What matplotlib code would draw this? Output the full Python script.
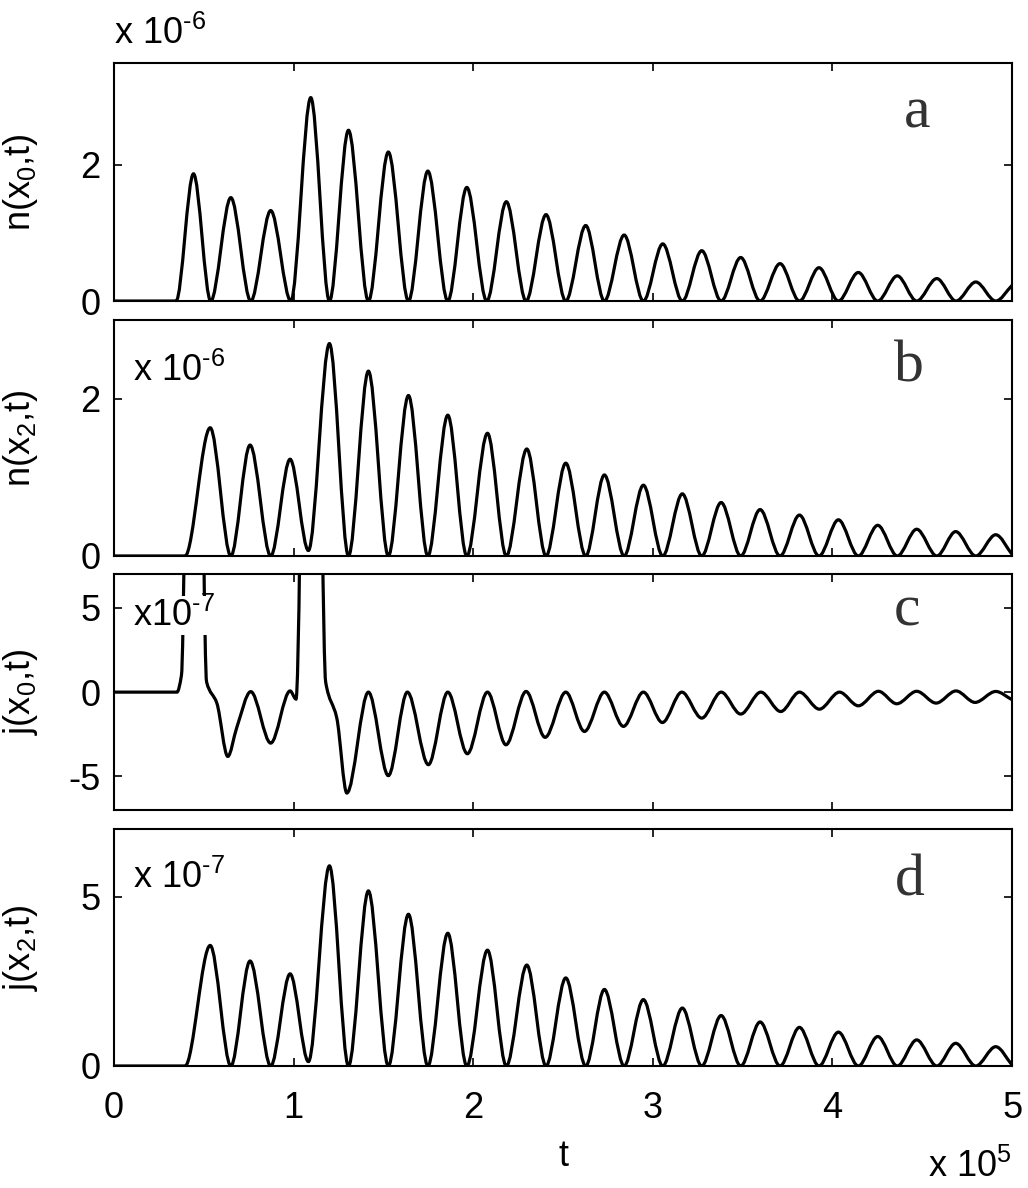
import numpy as np
import matplotlib
matplotlib.use('Agg')
import matplotlib.pyplot as plt
from matplotlib.path import Path
from matplotlib.patches import PathPatch

plt.rcParams['font.family'] = ['Liberation Sans', 'DejaVu Sans']
plt.rcParams['mathtext.fontset'] = 'custom'
plt.rcParams['mathtext.rm'] = 'Liberation Sans'
plt.rcParams['mathtext.default'] = 'regular'
plt.rcParams['axes.unicode_minus'] = False

# extrema of each trace (t in units of 1e5)
a_t = [0, 0.345, 0.442, 0.538, 0.650, 0.761, 0.872, 0.984, 1.095, 1.199, 1.305, 1.416,
       1.527, 1.639, 1.747, 1.858, 1.964, 2.075, 2.184, 2.294, 2.405, 2.515, 2.626, 2.730,
       2.840, 2.947, 3.055, 3.164, 3.272, 3.380, 3.489, 3.597, 3.708, 3.816, 3.925, 4.033,
       4.144, 4.252, 4.361, 4.469, 4.581, 4.688, 4.798, 4.909, 5.0]
a_y = [0, 0, 1.87, 0, 1.52, 0, 1.33, 0, 2.99, 0, 2.51, 0,
       2.19, 0, 1.91, 0, 1.67, 0, 1.46, 0, 1.27, 0, 1.11, 0,
       0.97, 0, 0.84, 0, 0.74, 0, 0.64, 0, 0.55, 0, 0.49, 0,
       0.42, 0, 0.37, 0, 0.33, 0, 0.28, 0, 0.23]

b_t = [0, 0.395, 0.535, 0.650, 0.757, 0.872, 0.980, 1.082, 1.199, 1.305, 1.416, 1.527,
       1.639, 1.747, 1.858, 1.964, 2.079, 2.184, 2.298, 2.405, 2.515, 2.626, 2.730, 2.840,
       2.947, 3.055, 3.164, 3.272, 3.380, 3.489, 3.597, 3.708, 3.816, 3.925, 4.033, 4.144,
       4.252, 4.361, 4.469, 4.581, 4.686, 4.798, 4.909, 5.0]
b_y = [0, 0, 1.63, 0, 1.41, 0, 1.23, 0.07, 2.70, 0, 2.35, 0,
       2.04, 0, 1.79, 0, 1.56, 0, 1.36, 0, 1.18, 0, 1.03, 0,
       0.90, 0, 0.79, 0, 0.68, 0, 0.59, 0, 0.52, 0, 0.46, 0,
       0.39, 0, 0.34, 0, 0.31, 0, 0.27, 0.02]

c_t = [0, 0.35, 0.375, 0.445, 0.515, 0.572, 0.633, 0.683, 0.761, 0.872,
       0.980, 1.013, 1.10, 1.178, 1.24, 1.296, 1.416, 1.527, 1.633, 1.75,
       1.858, 1.967, 2.079, 2.182, 2.294, 2.40, 2.515, 2.619, 2.730, 2.836,
       2.947, 3.053, 3.161, 3.272, 3.38, 3.489, 3.601, 3.712, 3.816, 3.927,
       4.039, 4.144, 4.256, 4.358, 4.469, 4.577, 4.688, 4.794, 4.909, 5.0]
c_y = [0, 0, 1.0, 60, 0.6, -0.65, -3.81, -2.1, 0.03, -3.02,
       0.07, -0.41, 60, 0.6, -1.54, -5.98, 0.0, -4.95, 0.0, -4.30,
       0.0, -3.65, 0.0, -3.12, 0.04, -2.68, 0.0, -2.33, 0.0, -2.03,
       0.0, -1.80, 0.0, -1.54, 0.0, -1.30, 0.0, -1.15, 0.0, -1.01,
       0.0, -0.81, 0.05, -0.69, 0.05, -0.65, 0.07, -0.61, 0.04, -0.45]

d_t = b_t
d_y = [0, 0, 3.56, 0, 3.10, 0, 2.72, 0.13, 5.91, 0, 5.17, 0,
       4.48, 0, 3.92, 0, 3.42, 0, 2.98, 0, 2.60, 0, 2.26, 0,
       1.96, 0, 1.71, 0, 1.49, 0, 1.30, 0, 1.14, 0, 1.00, 0,
       0.87, 0, 0.77, 0, 0.67, 0, 0.57, 0.03]

x_ticks = [0, 1, 2, 3, 4, 5]
ylabels = ['n(x$_{0}$,t)', 'n(x$_{2}$,t)', 'j(x$_{0}$,t)', 'j(x$_{2}$,t)']
yticks = [[0, 2], [0, 2], [-5, 0, 5], [0, 5]]
ylims = [(0, 3.5), (0, 3), (-7, 7), (0, 7)]
letters = ['a', 'b', 'c', 'd']
HY = '\u2010'  # plain hyphen for the exponents, as in the original


def curve_path(t, y):
    # smooth monotone cubic through the extrema, drawn as bezier segments
    t = np.asarray(t, float)
    y = np.asarray(y, float)
    h = np.diff(t)
    d = np.diff(y) / h
    m = np.zeros_like(y)
    m[0] = d[0]
    m[-1] = d[-1]
    for i in range(1, len(y) - 1):
        if d[i - 1] * d[i] > 0:
            w1 = 2 * h[i] + h[i - 1]
            w2 = h[i] + 2 * h[i - 1]
            m[i] = (w1 + w2) / (w1 / d[i - 1] + w2 / d[i])
    verts = [(t[0], y[0])]
    codes = [Path.MOVETO]
    for i in range(len(h)):
        verts += [(t[i] + h[i] / 3, y[i] + m[i] * h[i] / 3),
                  (t[i + 1] - h[i] / 3, y[i + 1] - m[i + 1] * h[i] / 3),
                  (t[i + 1], y[i + 1])]
        codes += [Path.CURVE4] * 3
    return Path(verts, codes)


fig = plt.figure(figsize=(10.28, 11.88), dpi=100)
boxes = [[0.111, 0.7466, 0.8735, 0.2004],
         [0.111, 0.532, 0.8735, 0.1986],
         [0.111, 0.318, 0.8735, 0.1988],
         [0.111, 0.1027, 0.8735, 0.1995]]
traces = [(a_t, a_y), (b_t, b_y), (c_t, c_y), (d_t, d_y)]
letter_pos = [(0.894, 0.727), (0.885, 0.738), (0.883, 0.784), (0.886, 0.72)]

axes = []
for k in range(4):
    ax = fig.add_axes(boxes[k])
    t, y = traces[k]
    ax.add_patch(PathPatch(curve_path(t, y), fill=False, ec='black', lw=2.3, zorder=2))
    ax.set_xlim(0, 5)
    ax.set_ylim(*ylims[k])
    ax.set_xticks(x_ticks)
    ax.set_yticks(yticks[k])
    ax.tick_params(direction='in', length=6, width=1.2, top=True, right=True,
                   labelsize=26, pad=10)
    ax.tick_params(axis='x', pad=18)
    if k < 3:
        ax.set_xticklabels([])
    for s in ax.spines.values():
        s.set_linewidth(1.5)
    ax.set_ylabel(ylabels[k], fontsize=26)
    ax.yaxis.set_label_coords(-0.082, 0.5)
    ax.text(letter_pos[k][0], letter_pos[k][1], letters[k], transform=ax.transAxes,
            fontsize=43, family='Liberation Serif', color='#333333',
            ha='center', va='baseline')
    axes.append(ax)

axes[0].text(0.0, 1.08, 'x 10$^{' + HY + '6}$', transform=axes[0].transAxes,
             fontsize=26, ha='left', va='baseline')
axes[1].text(0.021, 0.742, 'x 10$^{' + HY + '6}$', transform=axes[1].transAxes,
             fontsize=26, ha='left', va='baseline')
axes[2].text(0.021, 0.78, 'x10$^{' + HY + '7}$', transform=axes[2].transAxes,
             fontsize=26, ha='left', va='baseline', zorder=5,
             bbox=dict(facecolor='white', edgecolor='none', pad=1))
axes[3].text(0.021, 0.75, 'x 10$^{' + HY + '7}$', transform=axes[3].transAxes,
             fontsize=26, ha='left', va='baseline')

axes[3].set_xlabel('t', fontsize=26)
axes[3].xaxis.set_label_coords(0.5, -0.31)
fig.text(0.984, 0.009, 'x 10$^{5}$', fontsize=26, ha='right', va='baseline')

fig.savefig('out.png', dpi=100)
